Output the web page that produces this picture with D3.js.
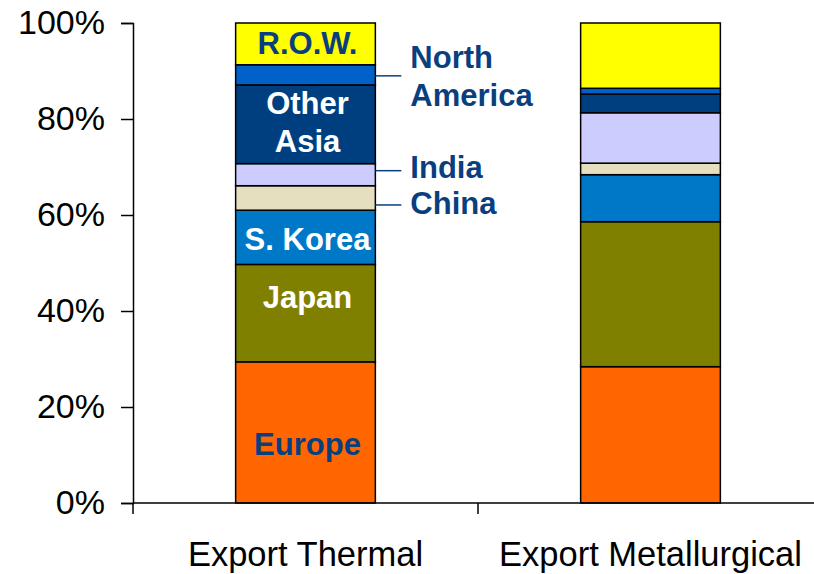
<!DOCTYPE html>
<html>
<head>
<meta charset="utf-8">
<script src="https://cdn.jsdelivr.net/npm/d3@7"></script>
<style>
  body { margin: 0; background: #fff; }
  svg { display: block; font-family: Arial, "Liberation Sans", sans-serif; }
</style>
</head>
<body>
<div id="chart"></div>
<script>
// chart data (shares in %)
var categories = ["Export Thermal", "Export Metallurgical"];
var regions = ["Europe", "Japan", "S. Korea", "China", "India", "Other Asia", "North America", "R.O.W."];
var thermal = [29.4, 20.3, 11.3, 5.1, 4.6, 16.4, 4.2, 8.7];
var metallurgical = [28.4, 30.2, 9.8, 2.4, 10.5, 3.9, 1.2, 13.6];
var yTicks = [0, 0.2, 0.4, 0.6, 0.8, 1];

var colors = ["#ff6600", "#808000", "#0078c8", "#e6dfbf", "#ccccff", "#003f7f", "#0062c8", "#ffff00"];
var navy = "#0a3f7f";

// label styling (only on the thermal bar)
var inside = {
    "Europe":     { fill: navy,   lines: ["Europe"],       dy: 12 },
    "Japan":      { fill: "#fff", lines: ["Japan"],        dy: -16 },
    "S. Korea":   { fill: "#fff", lines: ["S. Korea"],     dy: 2 },
    "Other Asia": { fill: "#fff", lines: ["Other", "Asia"], dy: -2 },
    "R.O.W.":     { fill: navy,   lines: ["R.O.W."],       dy: -1 }
};
var outside = {
    "China":         { lines: ["China"],            dy: 7, tdy: -2 },
    "India":         { lines: ["India"],            dy: -4, tdy: -4 },
    "North America": { lines: ["North", "America"], dy: 1, tdy: 0 }
};

var width = 814, height = 574;
var svg = d3.select("#chart").append("svg")
    .attr("width", width)
    .attr("height", height);

var x = d3.scaleBand().domain(categories).range([133, 823]);
var y = d3.scaleLinear().domain([0, 1]).range([503, 23]);
var barW = x.bandwidth() * 0.405;

// build stacked rows
var rows = categories.map(function(c, i) {
    var vals = i === 0 ? thermal : metallurgical;
    var r = { cat: c };
    regions.forEach(function(g, j) { r[g] = vals[j] / 100; });
    return r;
});
var series = d3.stack().keys(regions)(rows);

// bars
var layer = svg.selectAll("g.layer")
    .data(series).enter()
    .append("g")
    .attr("class", "layer")
    .attr("fill", function(d, i) { return colors[i]; });

layer.selectAll("rect")
    .data(function(d) { return d; }).enter()
    .append("rect")
    .attr("x", function(d) { return x(d.data.cat) + (x.bandwidth() - barW) / 2; })
    .attr("y", function(d) { return y(d[1]); })
    .attr("width", barW)
    .attr("height", function(d) { return y(d[0]) - y(d[1]); })
    .attr("stroke", "#000")
    .attr("stroke-width", 1.5);

// y axis
var yAxis = svg.append("g")
    .attr("transform", "translate(133,0)")
    .call(d3.axisLeft(y).tickValues(yTicks).tickFormat(d3.format(".0%"))
          .tickSize(12).tickPadding(16));
yAxis.select(".domain").attr("stroke", "#000").attr("stroke-width", 1.5);
yAxis.selectAll(".tick line").attr("stroke", "#000").attr("stroke-width", 1.5);
yAxis.selectAll("text")
    .attr("font-size", 34)
    .attr("font-family", "Arial, 'Liberation Sans', sans-serif")
    .attr("fill", "#000");

// x axis: line plus ticks at band edges
var xAxis = svg.append("g");
xAxis.append("line")
    .attr("x1", 133).attr("x2", 823)
    .attr("y1", y(0)).attr("y2", y(0))
    .attr("stroke", "#000").attr("stroke-width", 1.5);
var edges = categories.map(function(c) { return x(c); }).concat([x.range()[1]]);
xAxis.selectAll("line.tick")
    .data(edges).enter()
    .append("line")
    .attr("class", "tick")
    .attr("x1", function(d) { return d; }).attr("x2", function(d) { return d; })
    .attr("y1", y(0)).attr("y2", y(0) + 11)
    .attr("stroke", "#000").attr("stroke-width", 1.5);
xAxis.selectAll("text")
    .data(categories).enter()
    .append("text")
    .attr("x", function(d) { return x(d) + x.bandwidth() / 2; })
    .attr("y", 566)
    .attr("text-anchor", "middle")
    .attr("font-size", 34.5)
    .text(function(d) { return d; });

// labels on the thermal bar
var first = series.map(function(s) { return { key: s.key, d: s[0] }; });
var cx = x(categories[0]) + x.bandwidth() / 2 + 2;
var barRight = x(categories[0]) + (x.bandwidth() + barW) / 2;

first.forEach(function(s) {
    var mid = (y(s.d[0]) + y(s.d[1])) / 2;
    if (inside[s.key]) {
        var o = inside[s.key];
        var t = svg.append("text")
            .attr("text-anchor", "middle")
            .attr("font-size", 31)
            .attr("font-weight", "bold")
            .attr("fill", o.fill);
        o.lines.forEach(function(l, i) {
            t.append("tspan")
                .attr("x", cx)
                .attr("y", mid + o.dy + 11 - (o.lines.length - 1) * 19 + i * 38)
                .text(l);
        });
    } else if (outside[s.key]) {
        var p = outside[s.key];
        var ly = mid + p.dy;
        svg.append("line")
            .attr("x1", barRight).attr("x2", barRight + 26)
            .attr("y1", ly).attr("y2", ly)
            .attr("stroke", navy).attr("stroke-width", 1.5);
        var t2 = svg.append("text")
            .attr("font-size", 31)
            .attr("font-weight", "bold")
            .attr("fill", navy);
        p.lines.forEach(function(l, i) {
            t2.append("tspan")
                .attr("x", barRight + 35)
                .attr("y", ly + p.tdy + 11 - (p.lines.length - 1) * 19 + i * 38)
                .text(l);
        });
    }
});
</script>
</body>
</html>
